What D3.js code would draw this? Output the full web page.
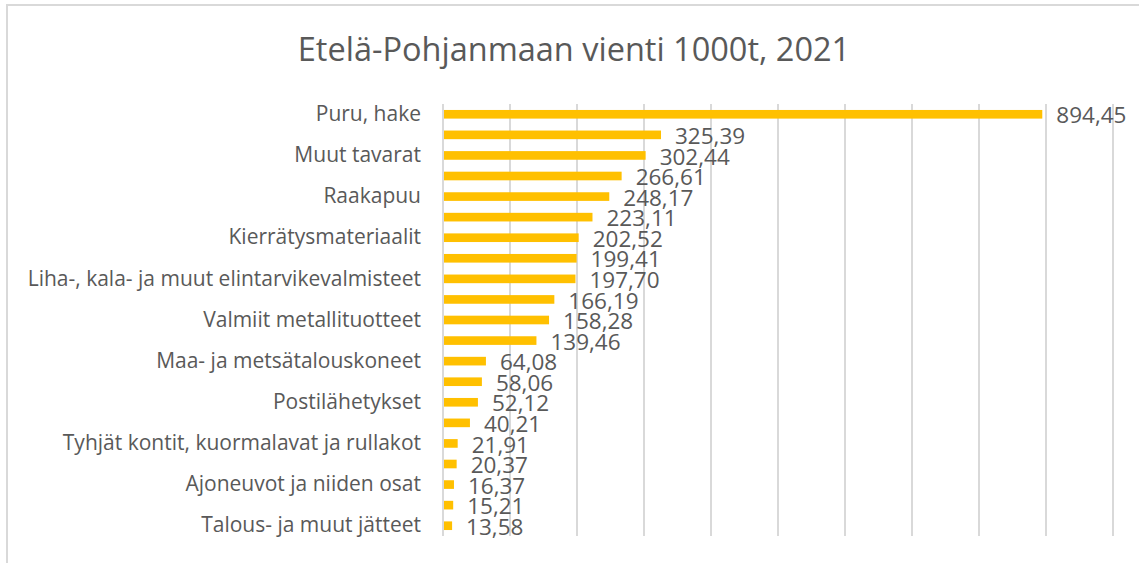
<!DOCTYPE html>
<html>
<head>
<meta charset="utf-8">
<script src="https://cdn.jsdelivr.net/npm/d3@7"></script>
<style>
  body { margin: 0; background: #fff; }
  text { font-family: "Open Sans", sans-serif; fill: #595959; }
</style>
</head>
<body>
<div id="chart"></div>
<script>
// data, top to bottom (only every other category label is shown in the original)
const categories = [
    "Puru, hake", "", "Muut tavarat", "", "Raakapuu", "", "Kierrätysmateriaalit", "",
    "Liha-, kala- ja muut elintarvikevalmisteet", "", "Valmiit metallituotteet", "",
    "Maa- ja metsätalouskoneet", "", "Postilähetykset", "",
    "Tyhjät kontit, kuormalavat ja rullakot", "", "Ajoneuvot ja niiden osat", "",
    "Talous- ja muut jätteet"
];
const values = [894.45, 325.39, 302.44, 266.61, 248.17, 223.11, 202.52, 199.41, 197.70, 166.19,
    158.28, 139.46, 64.08, 58.06, 52.12, 40.21, 21.91, 20.37, 16.37, 15.21, 13.58];
const gridTicks = [0, 100, 200, 300, 400, 500, 600, 700, 800, 900, 1000];
const title = "Etelä-Pohjanmaan vienti 1000t, 2021";

const width = 1139, height = 563;
const margin = {top: 104, right: 26, bottom: 27, left: 443};

const data = categories.map((c, i) => ({idx: i, name: c, value: values[i]}));

const fiLocale = d3.formatLocale({decimal: ",", thousands: " ", grouping: [3], currency: ["", " €"]});
const fmt = fiLocale.format(".2f");

let svg = d3.select("#chart")
    .append("svg")
    .attr("width", width)
    .attr("height", height);

// chart frame
svg.append("line").attr("x1", 6).attr("x2", width).attr("y1", 5).attr("y2", 5)
    .attr("stroke", "#d9d9d9").attr("stroke-width", 2);
svg.append("line").attr("x1", 7).attr("x2", 7).attr("y1", 5).attr("y2", height)
    .attr("stroke", "#d9d9d9").attr("stroke-width", 2);

svg.append("text")
    .attr("x", 574)
    .attr("y", 61)
    .style("text-anchor", "middle")
    .style("font-size", "32.5px")
    .text(title);

let g = svg.append("g")
    .attr("transform", `translate(${margin.left},${margin.top})`);

let x = d3.scaleLinear()
    .domain([0, 1000])
    .range([0, width - margin.left - margin.right]);

let y = d3.scaleBand()
    .domain(data.map(d => d.idx))
    .range([0, height - margin.top - margin.bottom])
    .paddingInner(0.58)
    .paddingOuter(0.29);

// gridlines
g.selectAll("line.grid")
    .data(gridTicks)
    .enter()
    .append("line")
    .attr("class", "grid")
    .attr("x1", d => x(d))
    .attr("x2", d => x(d))
    .attr("y1", 0)
    .attr("y2", height - margin.top - margin.bottom)
    .attr("stroke", "#d9d9d9")
    .attr("stroke-width", 2);

// category axis
let yAxis = g.append("g")
    .call(d3.axisLeft(y).tickSize(0).tickPadding(22).tickFormat(i => categories[i]));
yAxis.select(".domain").remove();
yAxis.selectAll("text")
    .style("font-size", "21px")
    .style("font-family", "'Open Sans', sans-serif")
    .attr("fill", "#595959");

// bars
g.selectAll("rect")
    .data(data)
    .enter()
    .append("rect")
    .attr("fill", "#ffc000")
    .attr("x", x(0) + 1)
    .attr("y", d => y(d.idx))
    .attr("width", d => x(d.value) - 1)
    .attr("height", y.bandwidth());

// value labels
g.selectAll("text.val")
    .data(data)
    .enter()
    .append("text")
    .attr("class", "val")
    .attr("x", d => x(d.value) + 14)
    .attr("y", d => y(d.idx) + y.bandwidth() / 2 + 1)
    .attr("dy", "0.36em")
    .style("font-size", "22.5px")
    .style("text-anchor", "start")
    .text(d => fmt(d.value));
</script>
</body>
</html>
